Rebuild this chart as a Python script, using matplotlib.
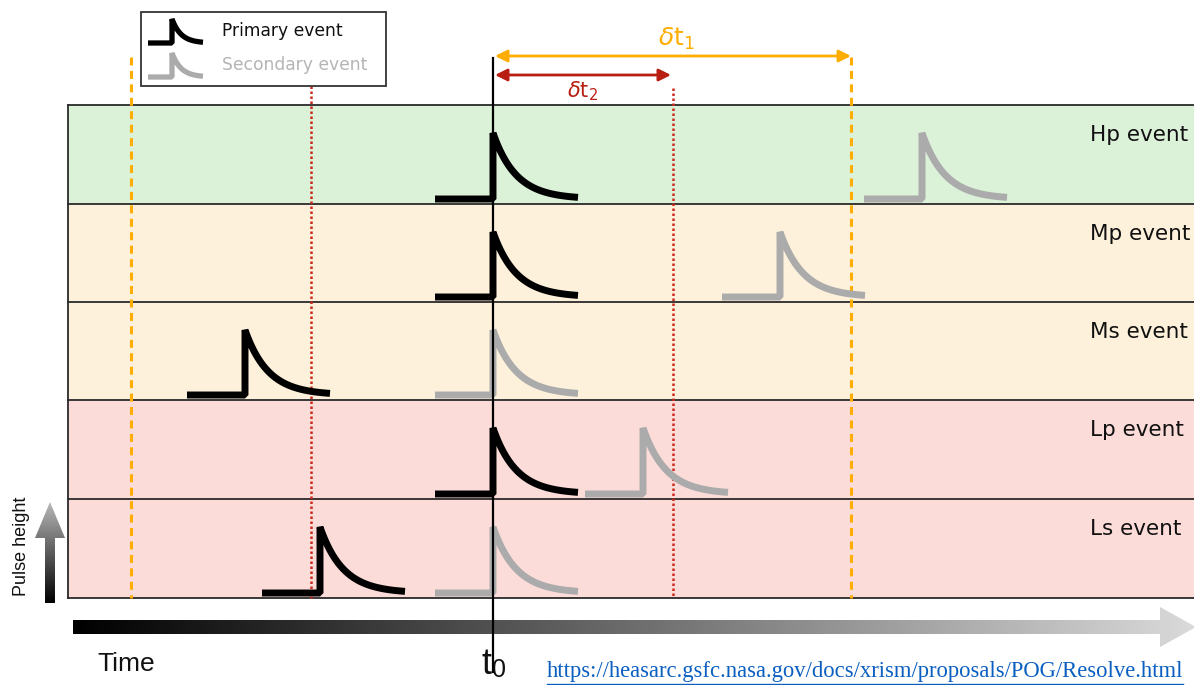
import numpy as np
import matplotlib
matplotlib.use('Agg')
import matplotlib.pyplot as plt
from matplotlib.patches import Polygon, Rectangle

plt.rcParams['font.family'] = ['Liberation Sans', 'DejaVu Sans']

# rows of the diagram (top to bottom)
rows = ['Hp event', 'Mp event', 'Ms event', 'Lp event', 'Ls event']
row_colors = ['#dbf1d8', '#fdf1db', '#fdf1db', '#fbdcd8', '#fbdcd8']
row_edges = [105, 204, 302, 400, 499, 598]

# pulse onsets (pixel time axis) for black (primary) and grey (secondary) pulses
primary_onset = [493, 493, 245, 493, 320]
secondary_onset = [922, 780, 493, 643, 493]

# reference times
t0 = 493
dt1_end = 851
dt2_end = 673
dt1_mirror = 131
dt2_mirror = 311

# pulse geometry
base_len = 58
tail_len = 85
tau = 23
peak_off = 28
base_off = 5

black = '#000000'
grey = '#ababab'
orange = '#ffad00'
red = '#b81e12'
red_dot = '#cc2a1c'


def pulse(onset, top, bottom):
    ybase = bottom - base_off
    ypeak = top + peak_off
    tt = np.linspace(0, tail_len, 60)
    xs = np.concatenate([[onset - base_len, onset, onset], onset + tt])
    ys = np.concatenate([[ybase, ybase, ypeak], ybase - (ybase - ypeak) * np.exp(-tt / tau)])
    return xs, ys


fig = plt.figure(figsize=(11.94, 6.85), dpi=100)
ax = fig.add_axes([0, 0, 1, 1])
ax.set_xlim(0, 1194)
ax.set_ylim(685, 0)
ax.axis('off')

# coloured bands
for i, name in enumerate(rows):
    top, bot = row_edges[i], row_edges[i + 1]
    ax.add_patch(Rectangle((68, top), 1194 - 68, bot - top, fc=row_colors[i], ec='none', zorder=0))
    ax.text(1090, top + 30, name, fontsize=15.5, family='DejaVu Sans', ha='left', va='center',
            color='#111111', zorder=5)
for y in row_edges:
    ax.plot([68, 1194], [y, y], color='#2a2a2a', lw=1.3, zorder=1)
ax.plot([68, 68], [row_edges[0], row_edges[-1]], color='#2a2a2a', lw=1.3, zorder=1)

# pulses
for i in range(len(rows)):
    top, bot = row_edges[i], row_edges[i + 1]
    xs, ys = pulse(secondary_onset[i], top, bot)
    ax.plot(xs, ys, color=grey, lw=5, solid_joinstyle='bevel', solid_capstyle='butt', zorder=3)
    xs, ys = pulse(primary_onset[i], top, bot)
    ax.plot(xs, ys, color=black, lw=5, solid_joinstyle='bevel', solid_capstyle='butt', zorder=3)

# reference lines
ax.plot([t0, t0], [58, 672], color='black', lw=1.6, zorder=4)
for x in (dt1_mirror, dt1_end):
    ax.plot([x, x], [57, row_edges[-1]], color=orange, lw=2.2, ls=(0, (2.6, 1.8)), zorder=2)
for x, y0 in ((dt2_mirror, 86), (dt2_end, 88)):
    ax.plot([x, x], [y0, row_edges[-1]], color=red_dot, lw=1.8, ls=(0, (1.0, 1.0)), zorder=2)

# delta-t arrows
ax.annotate('', xy=(t0 + 2, 56), xytext=(dt1_end, 56),
            arrowprops=dict(arrowstyle='<|-|>', color=orange, lw=2, mutation_scale=18, shrinkA=0, shrinkB=0))
ax.annotate('', xy=(t0 + 2, 75), xytext=(dt2_end - 2, 75),
            arrowprops=dict(arrowstyle='<|-|>', color=red, lw=2, mutation_scale=18, shrinkA=0, shrinkB=0))
ax.text((t0 + dt1_end) / 2 + 4, 39, r'$\delta\mathrm{t}_1$', color=orange, fontsize=18, ha='center', va='center')
ax.text((t0 + dt2_end) / 2, 91, r'$\delta\mathrm{t}_2$', color=red, fontsize=15, ha='center', va='center')

# legend box
ax.add_patch(Rectangle((141, 12), 245, 74, fc='white', ec='#333333', lw=1.3, zorder=6))
for yb, col, lab in ((43, black, 'Primary event'), (77, grey, 'Secondary event')):
    tt = np.linspace(0, 31, 30)
    xs = np.concatenate([[148, 172, 172], 172 + tt])
    ys = np.concatenate([[yb, yb, yb - 24], yb - 24 * np.exp(-tt / 9)])
    ax.plot(xs, ys, color=col, lw=3.8, solid_joinstyle='bevel', solid_capstyle='butt', zorder=7)
    ax.text(222, yb - 12, lab, color='#111111' if col == black else '#b5b5b5', fontsize=12.3,
            family='DejaVu Sans', ha='left', va='center', zorder=7)

# time arrow with gradient
harrow = Polygon([(73, 620), (1160, 620), (1160, 607), (1196, 627), (1160, 647), (1160, 634), (73, 634)],
                 closed=True, fc='none', ec='none')
ax.add_patch(harrow)
hgrad = np.linspace(0, 1, 256)[None, :]
im = ax.imshow(hgrad, extent=(73, 1196, 647, 607), cmap=matplotlib.colors.LinearSegmentedColormap.from_list(
    'h', ['#000000', '#dadada']), aspect='auto', zorder=2)
im.set_clip_path(harrow)
ax.text(97, 664, 'Time', fontsize=19, ha='left', va='center', color='#111111')
ax.text(491, 664, 't', fontsize=26, ha='right', va='center', color='#111111')
ax.text(492, 670, '0', fontsize=18, ha='left', va='center', color='#111111')

# pulse height arrow
varrow = Polygon([(45, 603), (45, 538), (35, 538), (50, 502), (65, 538), (55, 538), (55, 603)],
                 closed=True, fc='none', ec='none')
ax.add_patch(varrow)
vgrad = np.linspace(0, 1, 256)[:, None]
im2 = ax.imshow(vgrad, extent=(35, 65, 603, 502), cmap=matplotlib.colors.LinearSegmentedColormap.from_list(
    'v', ['#000000', '#b8b8b8']), aspect='auto', origin='lower', zorder=2)
im2.set_clip_path(varrow)
ax.text(22, 546, 'Pulse height', fontsize=13, rotation=90, ha='center', va='center', color='#111111')

# source link
ax.text(547, 672, 'https://heasarc.gsfc.nasa.gov/docs/xrism/proposals/POG/Resolve.html',
        family='Liberation Serif', fontsize=16.3, color='#0b5fc0', ha='left', va='center')
ax.plot([547, 1183], [684, 684], color='#0b5fc0', lw=1)

fig.savefig('out.png', dpi=100)
